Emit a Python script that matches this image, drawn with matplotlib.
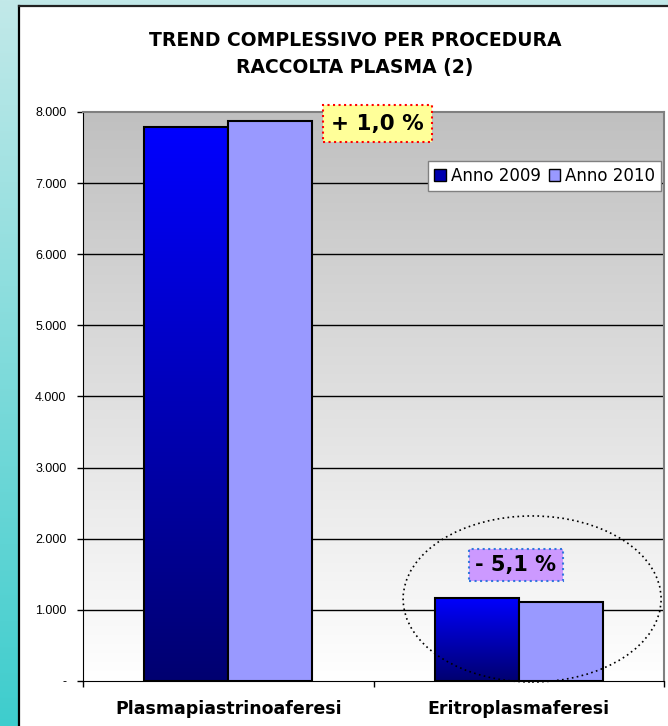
import numpy as np
import matplotlib
matplotlib.use("Agg")
import matplotlib.pyplot as plt
from matplotlib.colors import LinearSegmentedColormap
from matplotlib.patches import Ellipse, Patch
from matplotlib.ticker import FuncFormatter

categories = ["Plasmapiastrinoaferesi", "Eritroplasmaferesi"]
anno_2009 = [7790, 1170]
anno_2010 = [7868, 1110]
series_names = ["Anno 2009", "Anno 2010"]
variations = ["+ 1,0 %", "- 5,1 %"]
title = "TREND COMPLESSIVO PER PROCEDURA\nRACCOLTA PLASMA (2)"

W, H = 668, 726
fig = plt.figure(figsize=(W / 100, H / 100), dpi=100)

# slide background: teal gradient with white panel
bg = fig.add_axes([0, 0, 1, 1], zorder=-10)
bg.set_axis_off()
teal = LinearSegmentedColormap.from_list("teal", ["#c2e9e9", "#3ecdcd"])
bg.imshow(np.linspace(0, 1, 256).reshape(-1, 1), cmap=teal, aspect="auto",
          extent=[0, 1, 0, 1], origin="upper")
bg.add_patch(plt.Rectangle((19 / W, 0), 1, 1 - 6 / H, facecolor="white",
                           edgecolor="none"))
bg.plot([19 / W, 19 / W], [0, 1 - 6 / H], color="black", lw=1.6)
bg.plot([19 / W, 1], [1 - 6 / H, 1 - 6 / H], color="#222222", lw=1.6)
bg.set_xlim(0, 1)
bg.set_ylim(0, 1)

ax = fig.add_axes([83 / W, 1 - 681 / H, (664 - 83) / W, (681 - 112) / H])
x = np.arange(len(categories))
width = 0.29
ax.set_xlim(-0.5, 1.5)
ax.set_ylim(0, 8000)

# plot area gradient gray -> white
gray = LinearSegmentedColormap.from_list("gray", ["#c0c0c0", "#ffffff"])
ax.imshow(np.linspace(0, 1, 256).reshape(-1, 1), cmap=gray, aspect="auto",
          extent=[-0.5, 1.5, 0, 8000], origin="upper", zorder=0)

for yv in range(1000, 8000, 1000):
    ax.axhline(yv, color="black", lw=1, zorder=1)

b1 = ax.bar(x - width / 2, anno_2009, width, color="none", edgecolor="black",
            linewidth=1.5, zorder=3)
b2 = ax.bar(x + width / 2, anno_2010, width, color="#9999ff", edgecolor="black",
            linewidth=1.5, zorder=3)

blue = LinearSegmentedColormap.from_list("blue", ["#0000ff", "#000070"])
for bar in b1:
    bx, by = bar.get_x(), bar.get_y()
    im = ax.imshow(np.linspace(0, 1, 256).reshape(-1, 1), cmap=blue, aspect="auto",
                   extent=[bx, bx + bar.get_width(), by, by + bar.get_height()],
                   origin="upper", zorder=2)
    im.set_clip_path(bar)
ax.set_xlim(-0.5, 1.5)
ax.set_ylim(0, 8000)

for side in ["left", "bottom"]:
    ax.spines[side].set_color("black")
for side in ["top", "right"]:
    ax.spines[side].set_color("#808080")
    ax.spines[side].set_linewidth(1.5)

ax.set_yticks(range(0, 8001, 1000))
ax.yaxis.set_major_formatter(FuncFormatter(
    lambda v, p: "-" if v == 0 else f"{int(v):,}".replace(",", ".")))
ax.tick_params(axis="y", direction="out", length=4, width=1, pad=8,
               labelsize=9, labelfontfamily="Liberation Sans")

ax.set_xticks(x)
ax.set_xticklabels(categories, fontsize=12.5, fontweight="bold")
ax.tick_params(axis="x", which="major", length=0, pad=14)
ax.set_xticks([-0.5, 0.5, 1.5], minor=True)
ax.tick_params(axis="x", which="minor", direction="out", length=4, width=1)

# variation labels
ax.text(0.514, 7834, variations[0], fontsize=15.5, fontweight="bold",
        ha="center", va="center", zorder=5,
        bbox=dict(boxstyle="square,pad=0.4", fc="#ffff99", ec="red",
                  ls=":", lw=1.5))
ax.text(0.99, 1631, variations[1], fontsize=15, fontweight="bold",
        ha="center", va="center", zorder=5,
        bbox=dict(boxstyle="square,pad=0.3", fc="#cc99ff", ec="#3377dd",
                  ls=":", lw=1.5))
ax.add_patch(Ellipse((1.046, 1153), 0.888, 2335, fill=False, ec="black",
                     ls=(0, (1, 2)), lw=1.2, zorder=4, clip_on=False))

handles = [Patch(facecolor="#0000b0", edgecolor="black"),
           Patch(facecolor="#9999ff", edgecolor="black")]
fig.legend(handles, series_names, loc="upper left",
           bbox_to_anchor=(428 / W, 1 - 161 / H), ncol=2, fontsize=12,
           frameon=True, fancybox=False, edgecolor="#808080", facecolor="white",
           framealpha=1, borderpad=0.35,
           handlelength=0.7, handleheight=0.7, handletextpad=0.3,
           columnspacing=0.5, borderaxespad=0)

fig.text(355 / W, 1 - 54 / H, title, ha="center", va="center", fontsize=13.5,
         fontweight="bold", linespacing=1.5)

fig.savefig("out.png", dpi=100)
